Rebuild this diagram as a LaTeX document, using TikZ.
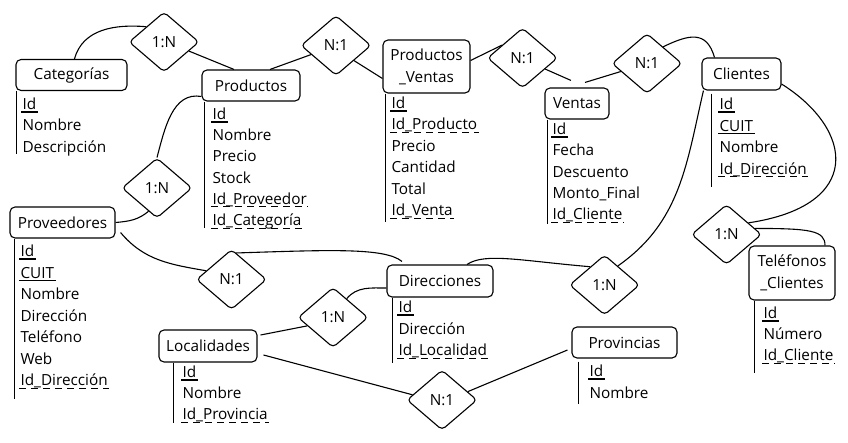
\documentclass[tikz,border=0pt]{standalone}
\usepackage{fontspec}
\setmainfont{Open Sans}
\usetikzlibrary{positioning}
\usetikzlibrary{shapes.geometric}

\begin{document}
\begin{tikzpicture}[x=1pt, y=1pt, line width=1.1pt, font=\fontsize{15.3}{22}\selectfont]
        \tikzstyle{entidad} = [draw, rounded corners=5pt, minimum height=31pt, align=center, inner sep=2pt]
        \tikzstyle{relacion} = [draw, diamond, rounded corners=4pt, minimum width=70pt, minimum height=60pt, inner sep=0pt]
        \tikzstyle{atributo} = [anchor=west, inner xsep=1pt, inner ysep=0pt, text height=10pt, text depth=2pt]
        \tikzstyle{clave} = [line width=1.3pt]
        \tikzstyle{foranea} = [line width=1.1pt, dash pattern=on 7pt off 5pt]

        \useasboundingbox (0,0) rectangle (848,-442);

        % Entidades
        \node[entidad, minimum width=111pt] (cat) at (71.5,-75) {Categorías};
        \node[entidad, minimum width=98pt] (prod) at (251,-85.5) {Productos};
        \node[entidad, minimum width=87pt, minimum height=53pt] (pv) at (426.5,-66.5) {Productos\\\_Ventas};
        \node[entidad, minimum width=64pt] (ven) at (577,-103.5) {Ventas};
        \node[entidad, minimum width=79pt, minimum height=32pt] (cli) at (741.5,-74) {Clientes};
        \node[entidad, minimum width=105pt] (prov) at (62.5,-222.5) {Proveedores};
        \node[entidad, minimum width=106pt, minimum height=32pt] (dir) at (440,-281) {Direcciones};
        \node[entidad, minimum width=98pt, minimum height=32pt] (loc) at (208,-346) {Localidades};
        \node[entidad, minimum width=105pt] (provi) at (624.5,-342.5) {Provincias};
        \node[entidad, minimum width=86pt, minimum height=54pt] (tel) at (792,-273) {Teléfonos\\\_Clientes};

        % Relaciones
        \node[relacion] (r1) at (164,-42) {1:N};
        \node[relacion] (r2) at (336,-45.5) {N:1};
        \node[relacion] (r3) at (522.5,-58) {N:1};
        \node[relacion] (r4) at (647,-63.5) {N:1};
        \node[relacion] (r5) at (157,-188) {1:N};
        \node[relacion] (r6) at (231.5,-279.5) {N:1};
        \node[relacion] (r7) at (333,-317.5) {1:N};
        \node[relacion] (r8) at (442,-400) {N:1};
        \node[relacion] (r9) at (604.5,-285) {1:N};
        \node[relacion] (r10) at (726.5,-234.5) {1:N};

        % Atributos
        \draw ([xshift=1pt]cat.south west) -- ++(0,-62.5);
        \foreach \campo [count=\i] in {Id, Nombre, Descripción}
            \node[atributo] (cat\i) at (21, {-84.1-21.4*\i}) {\campo};

        \draw ([xshift=3pt]prod.south west) -- ++(0,-126);
        \foreach \campo [count=\i] in {Id, Nombre, Precio, Stock, Id\_Proveedor, Id\_Categoría}
            \node[atributo] (prod\i) at (211, {-94.3-21.2*\i}) {\campo};

        \draw ([xshift=3pt]pv.south west) -- ++(0,-128);
        \foreach \campo [count=\i] in {Id, Id\_Producto, Precio, Cantidad, Total, Id\_Venta}
            \node[atributo] (pv\i) at (390, {-83.1-21.4*\i}) {\campo};

        \draw ([xshift=3pt]ven.south west) -- ++(0,-104);
        \foreach \campo [count=\i] in {Id, Fecha, Descuento, Monto\_Final, Id\_Cliente}
            \node[atributo] (ven\i) at (551, {-109.2-21.3*\i}) {\campo};

        \draw ([xshift=10pt,yshift=-3pt]cli.south west) -- ++(0,-93);
        \foreach \campo [count=\i] in {Id, CUIT, Nombre, Id\_Dirección}
            \node[atributo] (cli\i) at (718, {-84-21.5*\i}) {\campo};

        \draw ([xshift=5pt]prov.south west) -- ++(0,-160);
        \foreach \campo [count=\i] in {Id, CUIT, Nombre, Dirección, Teléfono, Web, Id\_Dirección}
            \node[atributo] (prov\i) at (19, {-231-21.5*\i}) {\campo};

        \draw ([xshift=6pt]dir.south west) -- ++(0,-65);
        \foreach \campo [count=\i] in {Id, Dirección, Id\_Localidad}
            \node[atributo] (dir\i) at (397, {-287-21.5*\i}) {\campo};

        \draw ([xshift=15pt]loc.south west) -- ++(0,-60);
        \foreach \campo [count=\i] in {Id, Nombre, Id\_Provincia}
            \node[atributo] (loc\i) at (181, {-352.5-21*\i}) {\campo};

        \draw ([xshift=7pt,yshift=-3pt]provi.south west) -- ++(0,-42);
        \foreach \campo [count=\i] in {Id, Nombre}
            \node[atributo] (provi\i) at (588, {-351-21.5*\i}) {\campo};

        \draw ([xshift=6pt]tel.south west) -- ++(0,-72);
        \foreach \campo [count=\i] in {Id, Número, Id\_Cliente}
            \node[atributo] (tel\i) at (762, {-293.5-21*\i}) {\campo};

        % Claves primarias y foraneas
        \foreach \n in {cat1, prod1, pv1, ven1, cli1, cli2, prov1, prov2, dir1, loc1, provi1, tel1}
            \draw[clave] (\n.south west) -- (\n.south east);
        \foreach \n in {prod5, prod6, pv2, pv6, ven5, cli4, prov7, dir3, loc3, tel3}
            \draw[foranea] (\n.south west) -- (\n.south east);

        % Enlaces entre entidades y relaciones
        \draw ([xshift=3pt]cat.north) .. controls +(8,30) and +(-31,2.7) .. (r1.north west);
        \draw (r1.-20) -- ([xshift=-17pt]prod.north);
        \draw ([xshift=19pt]prod.north) -- (r2.200);
        \draw (r2.-40) -- ([yshift=-12pt]pv.west);
        \draw ([yshift=6pt]pv.east) -- (r3.148);
        \draw (r3.-26) -- ([xshift=-6pt,yshift=7pt]ven.north);
        \draw ([xshift=8pt,yshift=5pt]ven.north) -- (r4.197);
        \draw (r4.46) .. controls +(25,12) and +(-8,28) .. ([xshift=-27pt]cli.north);
        \draw ([yshift=-10pt]cli.east) .. controls +(73,-46) and +(115,17) .. (r10.28);
        \draw (r10.12) .. controls +(55,0) and +(0,15) .. ([xshift=33pt]tel.north);
        \draw ([xshift=2pt]cli.south west) to[out=-103, in=35] (r9.55);
        \draw (r9.128) .. controls +(-70,6) and +(18,12) .. ([xshift=27pt]dir.north);
        \draw (prov.east) to[out=5, in=220] (r5.250);
        \draw (r5.north) to[out=75, in=170] ([yshift=-11pt]prod.west);
        \draw ([xshift=5pt,yshift=-10pt]prov.east) to[out=-50, in=170] (r6.161);
        \draw (r6.80) .. controls +(93,3) and +(-17,14) .. ([xshift=-38pt,yshift=3pt]dir.north);
        \draw (r7.54) to[out=50, in=180] ([yshift=-7pt]dir.west);
        \draw ([xshift=3pt,yshift=11pt]loc.east) -- (r7.198);
        \draw ([xshift=6pt,yshift=-9pt]loc.east) -- (r8.170);
        \draw (r8.18) -- ([xshift=-4pt,yshift=-7.5pt]provi.west);
\end{tikzpicture}
\end{document}
